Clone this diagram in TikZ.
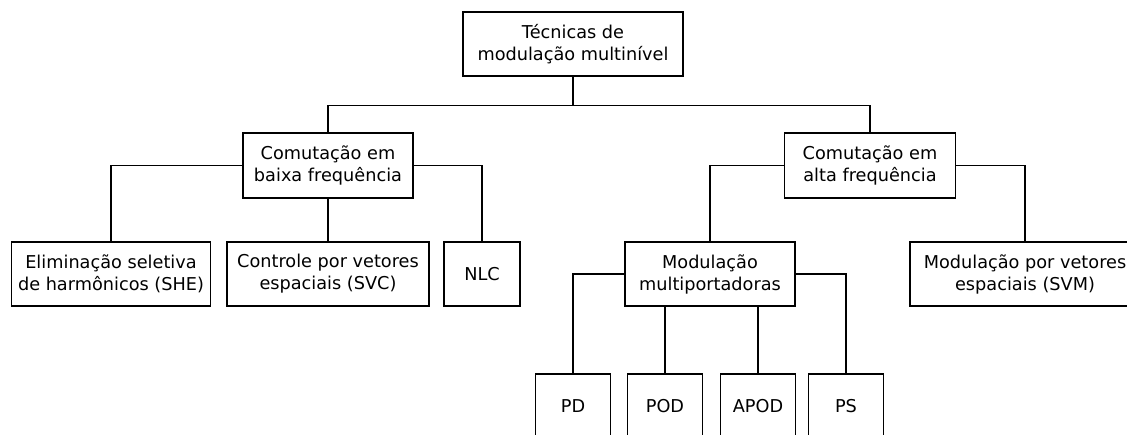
\documentclass[tikz,border=0pt]{standalone}
\usepackage{fontspec}
\setmainfont{DejaVu Sans}
\usepackage{tikz}
\usepackage{xcolor}

\begin{document}
\begin{tikzpicture}[x=1pt,y=-1pt,line width=1.3pt,
  caixa/.style={draw,align=center,font=\fontsize{17.7}{22}\selectfont,minimum height=64,inner sep=2pt},
  folha/.style={caixa,minimum width=75}]
\useasboundingbox (0,0) rectangle (1127,434);
\clip (0,0) rectangle (1127,434);
\node [caixa,minimum width=220] (tecnicas) at (573,44) {Técnicas de\\modulação multinível};
\node [caixa,minimum width=170,minimum height=65] (baixa) at (328,165.5) {Comutação em\\baixa frequência};
\node [caixa,minimum width=171,minimum height=65] (alta) at (870,165.5) {Comutação em\\alta frequência};
\node [caixa,minimum width=199] (she) at (111,274) {Eliminação seletiva\\de harmônicos (SHE)};
\node [caixa,minimum width=202] (svc) at (328,274) {Controle por vetores\\espaciais (SVC)};
\node [caixa,minimum width=76] (nlc) at (482,274) {NLC};
\node [caixa,minimum width=170] (multi) at (710,274) {Modulação\\multiportadoras};
\node [caixa,minimum width=230] (svm) at (1025,274) {Modulação por vetores\\espaciais (SVM)};
  \foreach \nome/\pos in {pd/573,pod/665,apod/758,ps/846}
  {  \node [folha] (\nome) at (\pos,406) {\MakeUppercase{\nome}};}
% ligacoes
\draw (tecnicas.south) -- ++(0,29) -| (baixa.north);
\draw (tecnicas.south) -- ++(0,29) -| (alta.north);
\draw (baixa.west) -| (she.north);
\draw (baixa.south) -- (svc.north);
\draw (baixa.east) -| (nlc.north);
\draw (alta.west) -| (multi.north);
\draw (alta.east) -| (svm.north);
\draw (multi.west) -| (pd.north);
\draw (multi.east) -| (ps.north);
\draw (pod.north) -- (pod.north |- multi.south);
\draw (apod.north) -- (apod.north |- multi.south);
\end{tikzpicture}
\end{document}
